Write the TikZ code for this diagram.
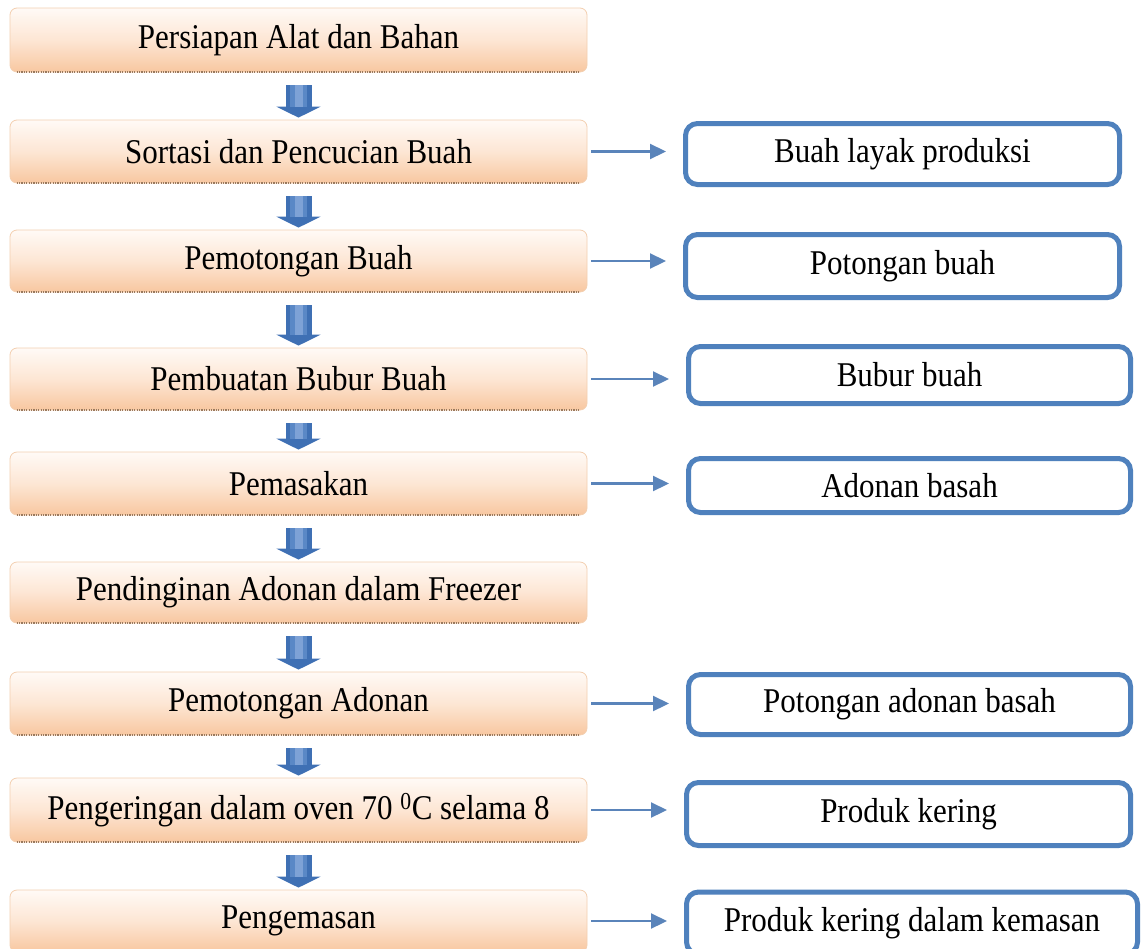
\documentclass[tikz,border=0pt]{standalone}
\usepackage{fontspec}
\usepackage{graphicx}
\setmainfont{Liberation Serif}
\usetikzlibrary{arrows.meta,calc}
\definecolor{peachtop}{HTML}{FFFAF6}
\definecolor{peachmid}{HTML}{FDE6D4}
\definecolor{peachbot}{HTML}{F8C7A0}
\definecolor{peachedge}{HTML}{F3CFB0}
\definecolor{dotbrown}{HTML}{9A7A5E}
\definecolor{boxblue}{HTML}{4F81BD}
\definecolor{arrblue}{HTML}{5A84BA}
\definecolor{blockblue}{HTML}{3F70B4}
\definecolor{blockmid}{HTML}{5A88C6}
\definecolor{blocklight}{HTML}{7EA2D6}
\newcommand\tx[1]{\scalebox{1}[1.12]{#1}}
\tikzset{
  x=1pt, y=-1pt,
  stepbox/.style={rectangle, rounded corners=7pt, draw=peachedge, line width=0.8pt,
    top color=peachtop, bottom color=peachbot, middle color=peachmid, minimum width=577pt,
    font=\fontsize{31}{36}\selectfont, inner sep=0pt},
  outbox/.style={rectangle, rounded corners=12pt, draw=boxblue, line width=5pt, fill=white,
    font=\fontsize{31}{36}\selectfont, inner sep=0pt},
  dotline/.style={draw=dotbrown, line width=2pt, dash pattern=on 1.2pt off 1.2pt},
  downarr/.style={draw=blockblue, line width=26pt, -{Triangle[width=44pt,length=11pt]}, shorten <=13pt, shorten >=2pt},
  downmid/.style={draw=blockmid, line width=17pt, shorten <=13pt, shorten >=13pt},
  downhl/.style={draw=blocklight, line width=8pt, shorten <=13pt, shorten >=13pt},
  sidearr/.style={draw=arrblue, line width=2.2pt, -{Triangle[length=16pt,width=15pt]}, shorten <=4pt, shorten >=17pt},
}
\begin{document}
\begin{tikzpicture}
\clip (0,0) rectangle (1146,948);
\fill[white] (0,0) rectangle (1146,948);

% left process boxes
\node[stepbox, minimum height=64pt] (b1) at (298.5,40) {\tx{Persiapan Alat dan Bahan}};
\node[stepbox, minimum height=63pt] (b2) at (298.5,151.5) {\tx{Sortasi dan Pencucian Buah}};
\node[stepbox, minimum height=62pt] (b3) at (298.5,261) {\tx{Pemotongan Buah}};
\node[stepbox, minimum height=62pt] (b4) at (298.5,379) {\tx{Pembuatan Bubur Buah}};
\node[stepbox, minimum height=63pt] (b5) at (298.5,483.5) {\tx{Pemasakan}};
\node[stepbox, minimum height=61pt] (b6) at (298.5,592.5) {\tx{Pendinginan Adonan dalam Freezer}};
\node[stepbox, minimum height=63pt] (b7) at (298.5,703.5) {\tx{Pemotongan Adonan}};
\node[stepbox, minimum height=64pt] (b8) at (298.5,810) {\tx{Pengeringan dalam oven 70 \textsuperscript{0}C selama 8}};
\node[stepbox, minimum height=62pt] (b9) at (298.5,921) {\tx{Pengemasan}};

% dotted bottom edges
\foreach \b in {b1,b2,b3,b4,b5,b6,b7,b8,b9}{
  \draw[dotline] ([xshift=7pt]\b.south west) -- ([xshift=-7pt]\b.south east);
}

% right output boxes
\node[outbox, minimum width=434pt, minimum height=61pt] (r1) at (902.5,154) {\tx{Buah layak produksi}};
\node[outbox, minimum width=434pt, minimum height=63pt] (r2) at (902.5,266) {\tx{Potongan buah}};
\node[outbox, minimum width=442pt, minimum height=57pt] (r3) at (909.5,375) {\tx{Bubur buah}};
\node[outbox, minimum width=442pt, minimum height=54pt] (r4) at (909.5,485.5) {\tx{Adonan basah}};
\node[outbox, minimum width=442pt, minimum height=60pt] (r5) at (909.5,704.5) {\tx{Potongan adonan basah}};
\node[outbox, minimum width=444pt, minimum height=63pt] (r6) at (908.5,814) {\tx{Produk kering}};
\node[outbox, minimum width=451pt, minimum height=62pt] (r7) at (912,923) {\tx{Produk kering dalam kemasan}};

% down block arrows
\foreach \a/\b in {b1/b2,b2/b3,b3/b4,b4/b5,b5/b6,b6/b7,b7/b8,b8/b9}{
  \draw[downarr] (\a.south) -- (\b.north);
  \draw[downmid] (\a.south) -- (\b.north);
  \draw[downhl] (\a.south) -- (\b.north);
}

% side arrows
\draw[sidearr] (b2.east) -- (b2.east -| r1.west);
\draw[sidearr] (b3.east) -- (b3.east -| r2.west);
\draw[sidearr] (b4.east) -- (b4.east -| r3.west);
\draw[sidearr] (b5.east) -- (b5.east -| r4.west);
\draw[sidearr] (b7.east) -- (b7.east -| r5.west);
\draw[sidearr] (b8.east) -- (b8.east -| r6.west);
\draw[sidearr] (b9.east) -- (b9.east -| r7.west);
\end{tikzpicture}
\end{document}
